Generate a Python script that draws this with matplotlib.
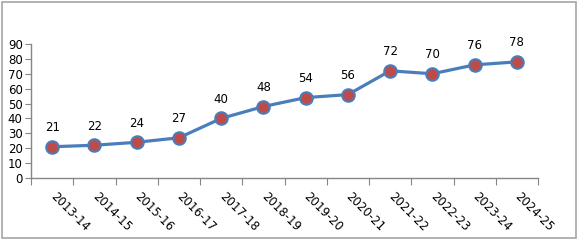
import matplotlib
matplotlib.use("Agg")
import matplotlib.pyplot as plt
from matplotlib.patches import Rectangle

categories = ["2013-14", "2014-15", "2015-16", "2016-17", "2017-18", "2018-19",
              "2019-20", "2020-21", "2021-22", "2022-23", "2023-24", "2024-25"]
values = [21, 22, 24, 27, 40, 48, 54, 56, 72, 70, 76, 78]
yticks = [0, 10, 20, 30, 40, 50, 60, 70, 80, 90]

plt.rcParams['font.family'] = ['DejaVu Sans']
fig = plt.figure(figsize=(5.8, 2.41), dpi=100)
ax = fig.add_axes([31/580, 1-178/241, (538-31)/580, (178-44)/241])

x = list(range(len(categories)))
ax.plot(x, values, color="#4a7ebb", lw=2.3, marker="o", markersize=9,
        markerfacecolor="#be4b48", markeredgecolor="#4a7ebb", markeredgewidth=1.5,
        zorder=3)
for xi, v in zip(x, values):
    ax.annotate(str(v), (xi, v), xytext=(0, 9), textcoords="offset points",
                ha="center", va="bottom", fontsize=8.5, color="#000000")

ax.set_xlim(-0.5, len(categories) - 0.5)
ax.set_ylim(0, 90)
ax.set_yticks(yticks)
ax.set_yticklabels([str(t) for t in yticks], fontsize=8.5)
ax.set_xticks([i - 0.5 for i in range(len(categories) + 1)], minor=False)
ax.set_xticklabels([])
ax.set_xticks(x, minor=True)
ax.set_xticklabels(categories, minor=True, rotation=-45, ha="left", va="center",
                   rotation_mode="anchor", fontsize=8.5)
ax.tick_params(axis="x", which="minor", length=0, pad=12)
ax.tick_params(axis="x", which="major", length=5, color="#868686", direction="out")
ax.tick_params(axis="y", length=4, color="#868686", direction="out", pad=2)

for s in ["top", "right"]:
    ax.spines[s].set_visible(False)
for s in ["left", "bottom"]:
    ax.spines[s].set_color("#868686")
    ax.spines[s].set_linewidth(1)

fig.patches.append(Rectangle((2/580, 3/241), 574/580, 236/241, transform=fig.transFigure,
                             fill=False, edgecolor="#a6a6a6", linewidth=1.2))

fig.savefig("out.png", dpi=100)
